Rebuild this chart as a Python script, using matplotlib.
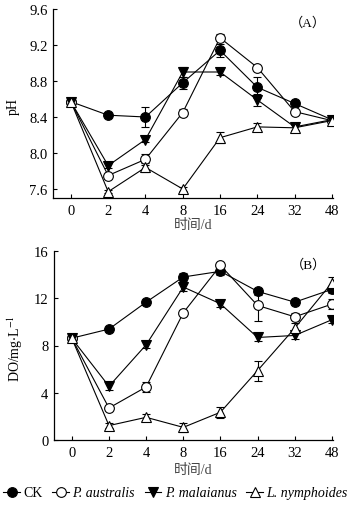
import matplotlib
matplotlib.use("Agg")
import matplotlib.pyplot as plt
from matplotlib.lines import Line2D
import numpy as np

plt.rcParams['font.family'] = ['Liberation Serif', 'Noto Sans CJK SC']
plt.rcParams['mathtext.fontset'] = 'stix'

days = ["0", "2", "4", "8", "16", "24", "32", "48"]
series = ["CK", "P. australis", "P. malaianus", "L. nymphoides"]

ph_ck = [8.57, 8.42, 8.40, 8.78, 9.14, 8.73, 8.55, 8.37]
ph_pa = [8.57, 7.75, 7.93, 8.45, 9.28, 8.95, 8.46, 8.36]
ph_pm = [8.57, 7.86, 8.15, 8.90, 8.90, 8.59, 8.29, 8.37]
ph_ln = [8.57, 7.57, 7.84, 7.60, 8.17, 8.29, 8.28, 8.36]
ph_ck_err = [0.02, 0.02, 0.11, 0.07, 0.07, 0.12, 0.03, 0.03]
ph_pa_err = [0.02, 0.02, 0.06, 0.04, 0.04, 0.02, 0.02, 0.02]
ph_pm_err = [0.02, 0.03, 0.03, 0.06, 0.03, 0.07, 0.03, 0.04]
ph_ln_err = [0.02, 0.02, 0.05, 0.02, 0.06, 0.04, 0.03, 0.03]

do_ck = [8.62, 9.39, 11.67, 13.8, 14.28, 12.58, 11.67, 12.75]
do_pa = [8.6, 2.71, 4.49, 10.77, 14.78, 11.39, 10.43, 11.5]
do_pm = [8.6, 4.55, 8.06, 12.95, 11.53, 8.68, 8.85, 10.18]
do_ln = [8.6, 1.22, 1.92, 1.07, 2.35, 5.88, 9.47, 13.31]
do_ck_err = [0.1, 0.2, 0.2, 0.3, 0.3, 0.3, 0.2, 0.3]
do_pa_err = [0.1, 0.2, 0.4, 0.2, 0.2, 1.3, 0.3, 0.4]
do_pm_err = [0.1, 0.3, 0.3, 0.3, 0.3, 0.3, 0.3, 0.3]
do_ln_err = [0.1, 0.2, 0.3, 0.4, 0.45, 0.85, 0.4, 0.5]

styles = [
    dict(marker='o', mfc='black', mec='black'),
    dict(marker='o', mfc='white', mec='black'),
    dict(marker='v', mfc='black', mec='black'),
    dict(marker='^', mfc='white', mec='black'),
]

W, H = 351, 506
fig = plt.figure(figsize=(W / 100, H / 100), dpi=100)
axA = fig.add_axes([53 / W, 1 - 199 / H, 280 / W, 189 / H])
axB = fig.add_axes([54 / W, 1 - 441 / H, 279 / W, 189 / H])

x = np.arange(len(days))

def draw(ax, datas, errs, ylim, yticks, ylabel, tag, xpad, ylx):
    for d, e, st in zip(datas, errs, styles):
        ax.errorbar(x, d, yerr=e, color='black', lw=0.8, ms=7, mew=0.8,
                    capsize=3, elinewidth=0.8, capthick=0.8, **st)
    ax.set_xlim(-0.48, 7.03)
    ax.set_ylim(*ylim)
    ax.set_xticks(x)
    ax.set_xticklabels(days)
    ax.set_yticks(yticks)
    ax.tick_params(direction='in', length=3, width=0.8, labelsize=10.5, pad=4)
    for s in ['top', 'right']:
        ax.spines[s].set_visible(False)
    for s in ['left', 'bottom']:
        ax.spines[s].set_linewidth(0.9)
    ax.set_xlabel("时间/d", fontsize=10, color='#444444', labelpad=xpad)
    ax.set_ylabel(ylabel, fontsize=10)
    ax.yaxis.set_label_coords(ylx, 0.49)
    ax.text(0.975, 0.93, tag, transform=ax.transAxes, ha='right', va='center',
            fontsize=9.5)

draw(axA, [ph_ck, ph_pa, ph_pm, ph_ln], [ph_ck_err, ph_pa_err, ph_pm_err, ph_ln_err],
     (7.5, 9.6), [7.6, 8.0, 8.4, 8.8, 9.2, 9.6], "pH", "（A）", 1, -0.118)
axA.set_yticklabels(["7.6", "8.0", "8.4", "8.8", "9.2", "9.6"])
draw(axB, [do_ck, do_pa, do_pm, do_ln], [do_ck_err, do_pa_err, do_pm_err, do_ln_err],
     (0, 16), [0, 4, 8, 12, 16], r"DO/mg$\cdot$L$^{-1}$", "（B）", 3, -0.105)

handles = [Line2D([0], [0], color='black', lw=0.8, ms=7, mew=0.8, **st) for st in styles]
leg = fig.legend(handles, series, loc='center', bbox_to_anchor=(0.5, 1 - 494 / H), ncol=4,
                 frameon=False, fontsize=10, handlelength=1.2, handletextpad=0.25,
                 columnspacing=0.7, borderaxespad=0)
for t in leg.get_texts()[1:]:
    t.set_fontstyle('italic')

fig.savefig("out.png", dpi=100)
